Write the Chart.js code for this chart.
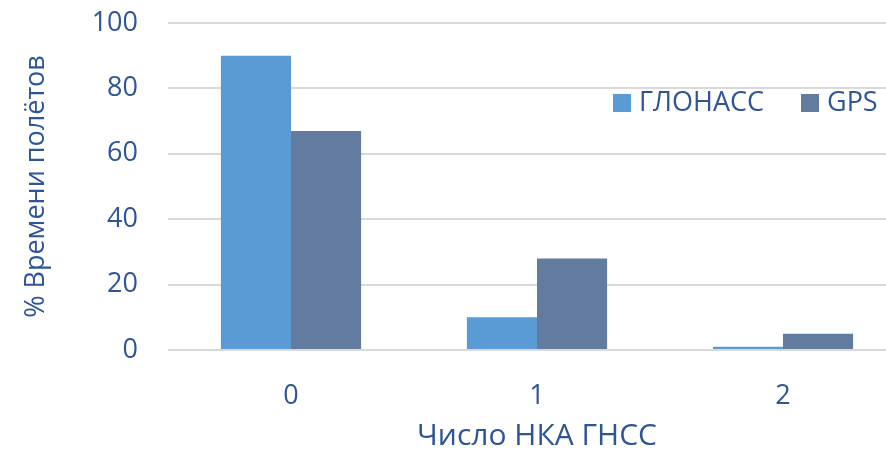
<!DOCTYPE html>
<html>
<head>
<meta charset="utf-8">
<script src="https://cdn.jsdelivr.net/npm/chart.js@4"></script>
<style>
  html, body { margin: 0; padding: 0; background: #fff; overflow: hidden; }
  canvas { display: block; }
</style>
</head>
<body>
<canvas id="barChart" width="906" height="454"></canvas>
<script>
var categories = ['0', '1', '2'];
var glonass = [90, 10, 1];
var gps = [67, 28, 5];
var seriesNames = ['ГЛОНАСС', 'GPS'];
var yTicks = [0, 20, 40, 60, 80, 100];

var textColor = '#2F5597';
var fontFamily = '"Open Sans", sans-serif';

// legend drawn inside the plot, top right, like the original
var insideLegend = {
  id: 'insideLegend',
  afterDraw: function(chart) {
    var ctx = chart.ctx;
    var spots = [613, 801];
    ctx.save();
    ctx.font = '27px ' + fontFamily;
    ctx.textBaseline = 'middle';
    chart.data.datasets.forEach(function(ds, i) {
      ctx.fillStyle = ds.backgroundColor;
      ctx.fillRect(spots[i], 94, 18, 18);
      ctx.fillStyle = textColor;
      ctx.fillText(ds.label, spots[i] + 26, 103);
    });
    ctx.restore();
  }
};

var barData = {
  labels: categories,
  datasets: [{
    label: seriesNames[0],
    backgroundColor: '#5B9BD5',
    data: glonass
  }, {
    label: seriesNames[1],
    backgroundColor: '#637B9F',
    data: gps
  }]
};

var barConfig = {
  type: 'bar',
  data: barData,
  plugins: [insideLegend],
  options: {
    responsive: false,
    maintainAspectRatio: false,
    devicePixelRatio: 1,
    animation: false,
    layout: { padding: { top: 23, right: 0, left: 10, bottom: 0 } },
    datasets: {
      bar: { barPercentage: 1, categoryPercentage: 0.57 }
    },
    plugins: {
      legend: { display: false },
      tooltip: { enabled: false }
    },
    scales: {
      x: {
        afterFit: function(axis) { axis.height = 104; },
        grid: { display: false },
        border: { display: false },
        ticks: { color: textColor, font: { family: fontFamily, size: 27 }, padding: 22 },
        title: {
          display: true,
          text: 'Число НКА ГНСС',
          color: textColor,
          font: { family: fontFamily, size: 30 },
          padding: { top: 0, bottom: 0 }
        }
      },
      y: {
        min: 0,
        max: 100,
        afterFit: function(axis) {
          axis.width = 158;
          axis.paddingTop = 0;
          axis.paddingBottom = 0;
        },
        afterBuildTicks: function(axis) {
          axis.ticks = yTicks.map(function(v) { return { value: v }; });
        },
        grid: { color: '#D9D9D9', lineWidth: 2, drawTicks: false },
        border: { display: false },
        ticks: { color: textColor, font: { family: fontFamily, size: 27 }, padding: 30 },
        title: {
          display: true,
          text: '% Времени полётов',
          color: textColor,
          font: { family: fontFamily, size: 27 },
          padding: { top: 10, bottom: 0 }
        }
      }
    }
  }
};

var barChart = new Chart(document.getElementById('barChart'), barConfig);
</script>
</body>
</html>
